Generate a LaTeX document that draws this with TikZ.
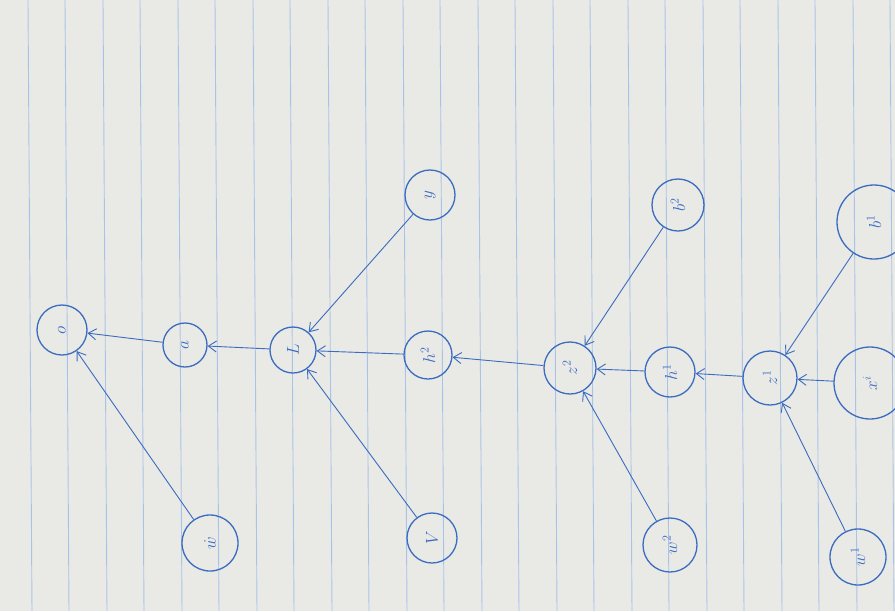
\documentclass[tikz,border=0pt]{standalone}
\usetikzlibrary{arrows.meta}
\definecolor{ink}{HTML}{3A6CC0}
\definecolor{paper}{HTML}{E9E9E6}
\definecolor{rulec}{HTML}{A9C3E8}
\begin{document}
\begin{tikzpicture}[x=1pt,y=-1pt,
  nd/.style={draw=ink, line width=1.3pt, circle, inner sep=0pt, minimum size=#1, text=ink, rotate=90, font=\LARGE},
  ar/.style={draw=ink, line width=0.9pt, -{Straight Barb[length=8pt,width=11pt]}}]
\useasboundingbox (0,0) rectangle (895,611);
\clip (0,0) rectangle (895,611);
\fill[paper] (0,0) rectangle (895,611);
\foreach \x in {28,65,103,140,178,215,253,290,328,365,403,440,478,515,553,590,628,665,703,740,778,815,853,890}
  \draw[rulec, line width=0.9pt] (\x,0) -- (\x+4,611);
% nodes
\node[nd=50pt] (o)  at (62,330)  {$o$};
\node[nd=44pt] (a)  at (185,345) {$a$};
\node[nd=46pt] (L)  at (293,350) {$L$};
\node[nd=50pt] (y)  at (430,195) {$y$};
\node[nd=48pt] (h2) at (428,355) {$h^2$};
\node[nd=50pt] (V)  at (432,538) {$V$};
\node[nd=56pt] (W)  at (210,543) {$\dot{w}$};
\node[nd=52pt] (z2) at (570,368) {$z^2$};
\node[nd=52pt] (b2) at (678,205) {$b^2$};
\node[nd=54pt] (w2) at (670,545) {$w^2$};
\node[nd=50pt] (h1) at (670,372) {$h^1$};
\node[nd=54pt] (z1) at (770,378) {$z^1$};
\node[nd=72pt] (x)  at (870,383) {$x^i$};
\node[nd=74pt] (b1) at (874,222) {$b^1$};
\node[nd=56pt] (w1) at (858,557) {$w^1$};
% edges
\draw[ar] (a) -- (o);
\draw[ar] (W) -- (o);
\draw[ar] (L) -- (a);
\draw[ar] (y) -- (L);
\draw[ar] (h2) -- (L);
\draw[ar] (V) -- (L);
\draw[ar] (z2) -- (h2);
\draw[ar] (b2) -- (z2);
\draw[ar] (w2) -- (z2);
\draw[ar] (h1) -- (z2);
\draw[ar] (z1) -- (h1);
\draw[ar] (b1) -- (z1);
\draw[ar] (x) -- (z1);
\draw[ar] (w1) -- (z1);
\end{tikzpicture}
\end{document}
